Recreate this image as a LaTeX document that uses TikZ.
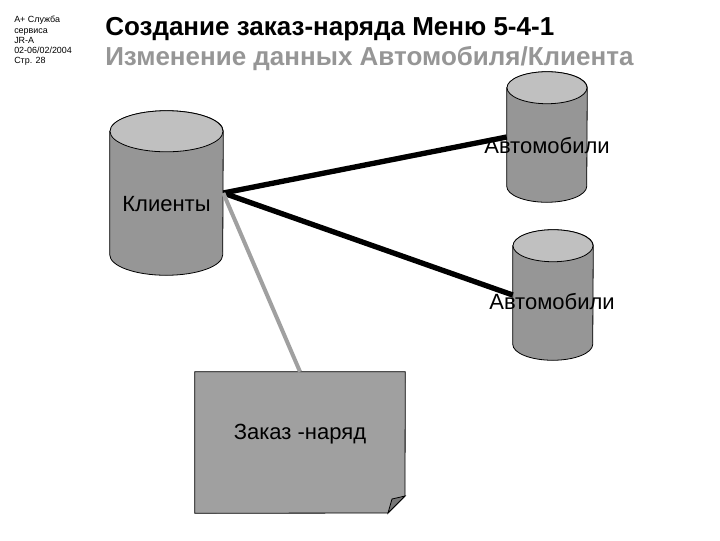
\documentclass[tikz,border=0pt]{standalone}
\usepackage{fontspec}
\setmainfont{Liberation Sans}
\usetikzlibrary{calc}
\definecolor{bodygray}{HTML}{969696}
\definecolor{topgray}{HTML}{C0C0C0}
\definecolor{notegray}{HTML}{A0A0A0}
\definecolor{foldgray}{HTML}{777777}
\definecolor{titlegray}{HTML}{969696}
\tikzset{
    tank/.style={inner sep=0pt},
    tabname/.style={font=\fontsize{16.5}{18}\selectfont,inner sep=0pt},
    link/.style={line width=4pt},
    title/.style={font=\fontsize{19.5}{21}\selectfont\bfseries,anchor=west,inner sep=0pt}
}
\begin{document}
\begin{tikzpicture}[x=0.75pt,y=-0.75pt]
    \useasboundingbox (0,0) rectangle (720,540);
    \node (Info) at (14,41) [anchor=west,align=left,inner sep=0pt,font=\fontsize{6.7}{7.7}\selectfont] {А+ Служба\\сервиса\\JR-A\\02-06/02/2004\\Стр. 28};
    \node (Title) at (105,29) [title] {Создание заказ-наряда Меню 5-4-1};
    \node (Subtitle) at (105,59) [title,text=titlegray] {Изменение данных Автомобиля/Клиента};
    % tables
    \node (Klienty) at (166.5,193) [tank,minimum width=84.75pt,minimum height=123pt] {};
    \node (AvtoA) at (547,137) [tank,minimum width=60pt,minimum height=97.5pt] {};
    \node (AvtoB) at (553,295) [tank,minimum width=60pt,minimum height=97.5pt] {};
    \foreach \tab/\rx/\ry in {Klienty/42.375pt/15.4pt,AvtoA/30pt/12pt,AvtoB/30pt/12pt}{
        \draw[fill=bodygray,line width=0.6pt] ($(\tab.north west)+(0,-\ry)$)--($(\tab.south west)+(0,\ry)$)
            arc[start angle=180,end angle=360,x radius=\rx,y radius=\ry]--($(\tab.north east)+(0,-\ry)$)
            arc[start angle=0,end angle=180,x radius=\rx,y radius=\ry]--cycle;
        \draw[fill=topgray,line width=0.6pt] ($(\tab.north)+(0,-\ry)$) ellipse[x radius=\rx,y radius=\ry];
    }
    % order sheet
    \node (Zakaz) at (300,442.5) [tank,minimum width=157.5pt,minimum height=105.75pt] {};
    \draw[fill=notegray,line width=0.6pt] (Zakaz.north west)--(Zakaz.north east)--(405,496)--(388,513)--(Zakaz.south west)--cycle;
    \draw[fill=foldgray,line width=0.6pt] (405,496)--(392,499)--(388,513)--cycle;
    % links
    \draw[link] (Klienty.east)--(AvtoA.west);
    \draw[link] (Klienty.east)--(AvtoB.west);
    \draw[link,line width=3pt,color=notegray] (Klienty.east)--(Zakaz.north);
    % names
    \node (KlientyName) at (166.5,204) [tabname] {Клиенты};
    \node (AvtoAName) at (547,146) [tabname] {Автомобили};
    \node (AvtoBName) at (552,302) [tabname] {Автомобили};
    \node (ZakazName) at (300,434) [tabname] {Заказ -наряд};
\end{tikzpicture}
\end{document}
